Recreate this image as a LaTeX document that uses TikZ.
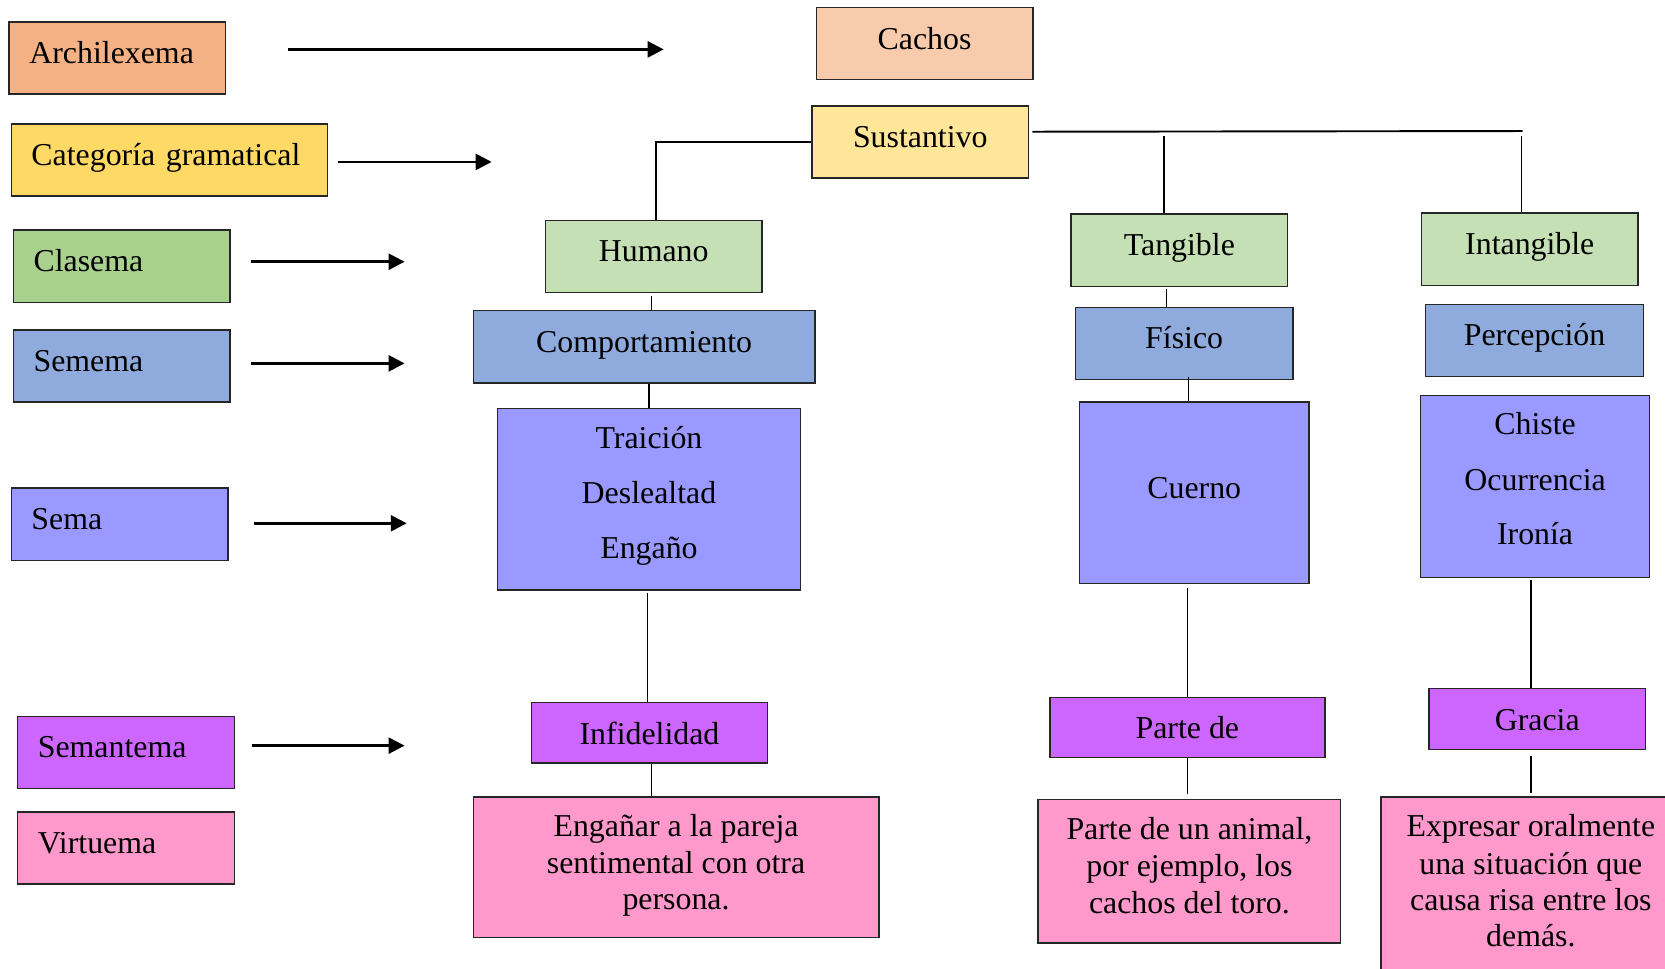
\documentclass[tikz,border=0pt]{standalone}
\usepackage{fontspec}
\setmainfont{Liberation Serif}
\usetikzlibrary{arrows.meta,calc}

\definecolor{cArch}{HTML}{F4B183}
\definecolor{cCachos}{HTML}{F8CBAD}
\definecolor{cCat}{HTML}{FFD966}
\definecolor{cSust}{HTML}{FFE699}
\definecolor{cClas}{HTML}{A9D18E}
\definecolor{cHum}{HTML}{C5E0B4}
\definecolor{cSeme}{HTML}{8FAADC}
\definecolor{cSema}{HTML}{9999FF}
\definecolor{cSemant}{HTML}{CC66FF}
\definecolor{cVirt}{HTML}{FF99CC}

\begin{document}
\begin{tikzpicture}[x=1pt,y=-1pt,
  font=\fontsize{30}{36}\selectfont,
  box/.style={draw=black!85, line width=1.3pt, inner sep=0pt, anchor=north west},
  legend/.style={box, inner xsep=19pt, align=left, minimum height=68pt,
                 text height=25pt, text depth=15pt},
  tbox/.style={box, text height=25pt, text depth=15pt},
  lowbox/.style={box, text height=30pt, text depth=9pt},
  ln/.style={anchor=base, inner sep=0pt},
  link/.style={line width=1.3pt, draw=black},
  arr/.style={line width=2.5pt, -{Triangle[length=15pt,width=15pt]}}
]
\clip (0,0) rectangle (1568,912);
\fill[white] (0,0) rectangle (1568,912);

% legend column
\node[legend, fill=cArch,   text width=166pt] (arch)   at (8,20)   {Archilexema};
\node[legend, fill=cCat,    text width=260pt] (cat)    at (10,116) {Categoría gramatical};
\node[legend, fill=cClas,   text width=166pt] (clas)   at (12,216) {Clasema};
\node[legend, fill=cSeme,   text width=166pt] (seme)   at (12,310) {Semema};
\node[legend, fill=cSema,   text width=166pt] (sema)   at (10,459) {Sema};
\node[legend, fill=cSemant, text width=166pt] (semant) at (16,674) {Semantema};
\node[legend, fill=cVirt,   text width=166pt] (virt)   at (16,764) {Virtuema};

% legend arrows
\coordinate (a1s) at (271,46.5);  \coordinate (a1e) at (625,46.5);
\coordinate (a2s) at (318,152.5); \coordinate (a2e) at (463,152.5);
\coordinate (a3s) at (236,246.5); \coordinate (a3e) at (381,246.5);
\coordinate (a4s) at (236,342.2); \coordinate (a4e) at (381,342.2);
\coordinate (a5s) at (239,492.8); \coordinate (a5e) at (383,492.8);
\coordinate (a6s) at (237,702.2); \coordinate (a6e) at (381,702.2);
\draw[arr] (a1s) -- (a1e);
\draw[arr] (a2s) -- (a2e);
\draw[arr] (a3s) -- (a3e);
\draw[arr] (a4s) -- (a4e);
\draw[arr] (a5s) -- (a5e);
\draw[arr] (a6s) -- (a6e);

% top of the tree
\node[tbox, fill=cCachos, minimum width=204pt, minimum height=68pt] (cachos) at (768,6.5) {Cachos};
\node[tbox, fill=cSust,   minimum width=204pt, minimum height=68pt] (sust)   at (764,99)  {Sustantivo};

% clasemas
\node[tbox, fill=cHum, minimum width=204pt, minimum height=68pt] (hum)    at (513,207)  {Humano};
\node[tbox, fill=cHum, minimum width=204pt, minimum height=68pt] (tang)   at (1008,201) {Tangible};
\node[tbox, fill=cHum, minimum width=204pt, minimum height=68pt] (intang) at (1338,200) {Intangible};

% sememas
\node[tbox, fill=cSeme, minimum width=322pt, minimum height=68pt] (comp) at (445,292)  {Comportamiento};
\node[tbox, fill=cSeme, minimum width=205pt, minimum height=68pt] (fis)  at (1012,289) {Físico};
\node[tbox, fill=cSeme, minimum width=205pt, minimum height=68pt] (perc) at (1342,286) {Percepción};

% semas
\node[box, fill=cSema, minimum width=285pt, minimum height=171pt] (trai) at (468,384) {};
\node[ln] (trai1) at ($(trai.north)+(0,38.2)$)  {Traición};
\node[ln] (trai2) at ($(trai.north)+(0,90.4)$)  {Deslealtad};
\node[ln] (trai3) at ($(trai.north)+(0,141.8)$) {Engaño};

\node[tbox, fill=cSema, minimum width=216pt, minimum height=171pt] (cuer) at (1016,378) {Cuerno};

\node[box, fill=cSema, minimum width=216pt, minimum height=171pt] (chis) at (1337,372) {};
\node[ln] (chis1) at ($(chis.north)+(0,37)$)    {Chiste};
\node[ln] (chis2) at ($(chis.north)+(0,89.8)$)  {Ocurrencia};
\node[ln] (chis3) at ($(chis.north)+(0,140.7)$) {Ironía};

% semantemas
\node[lowbox, fill=cSemant, minimum width=222pt, minimum height=57pt] (inf)   at (500,661)  {Infidelidad};
\node[lowbox, fill=cSemant, minimum width=259pt, minimum height=57pt] (parte) at (988,656)  {Parte de};
\node[lowbox, fill=cSemant, minimum width=204pt, minimum height=57pt] (gra)   at (1345,648) {Gracia};

% virtuemas
\node[box, fill=cVirt, minimum width=382pt, minimum height=132pt] (eng) at (445,750) {};
\node[ln] (eng1) at ($(eng.north)+(0,38.1)$)  {Engañar a la pareja};
\node[ln] (eng2) at ($(eng.north)+(0,72.3)$)  {sentimental con otra};
\node[ln] (eng3) at ($(eng.north)+(0,106.2)$) {persona.};

\node[box, fill=cVirt, minimum width=285pt, minimum height=135pt] (anim) at (977,752.4) {};
\node[ln] (anim1) at ($(anim.north)+(0,38.1)$)  {Parte de un animal,};
\node[ln] (anim2) at ($(anim.north)+(0,72.6)$)  {por ejemplo, los};
\node[ln] (anim3) at ($(anim.north)+(0,107.7)$) {cachos del toro.};

\node[box, fill=cVirt, minimum width=282pt, minimum height=190pt] (expr) at (1300,750) {};
\node[ln] (expr1) at ($(expr.north)+(0,38.1)$)  {Expresar oralmente};
\node[ln] (expr2) at ($(expr.north)+(0,73.2)$)  {una situación que};
\node[ln] (expr3) at ($(expr.north)+(0,107.8)$) {causa risa entre los};
\node[ln] (expr4) at ($(expr.north)+(0,141.7)$) {demás.};

% tree connectors
\draw[link] (sust.west) -| ([xshift=2pt]hum.north);
\coordinate (sbar) at (1434,123.4);
\draw[line width=1.8pt] ([xshift=3pt,yshift=9.6pt]sust.east) -- (sbar);
\coordinate (tangj) at (1096,128);
\coordinate (intj)  at (1433,128);
\draw[link] (tangj) -- (tangj |- tang.north);
\draw[link] (intj) -- (intj |- intang.north);

\draw[link] ([xshift=-2pt,yshift=-2pt]hum.south) -- ([xshift=-2pt]hum.south |- comp.north);
\draw[link] (trai.north) -- (trai.north |- comp.south);
\draw[link] ([xshift=-1.6pt,yshift=-2pt]inf.north |- trai.south) -- ([xshift=-1.6pt]inf.north);
\draw[link] ([xshift=2pt]inf.south) -- ([xshift=2pt]inf.south |- eng.north);

\draw[link] ([xshift=-12pt,yshift=-2pt]tang.south) -- ([xshift=-12pt]tang.south |- fis.north);
\draw[link] ([xshift=4pt,yshift=3pt]fis.south) -- ([xshift=4pt]fis.south |- cuer.north);
\draw[link] ([yshift=-3pt]parte.north |- cuer.south) -- (parte.north);
\draw[link] (parte.south) -- ([yshift=5pt]parte.south |- anim.north);

\draw[link] ([xshift=-6pt,yshift=-2pt]gra.north |- chis.south) -- ([xshift=-6pt]gra.north);
\draw[link] ([xshift=-6pt,yshift=-6pt]gra.south) -- ([xshift=-6pt,yshift=3pt]gra.south |- expr.north);
\end{tikzpicture}
\end{document}
